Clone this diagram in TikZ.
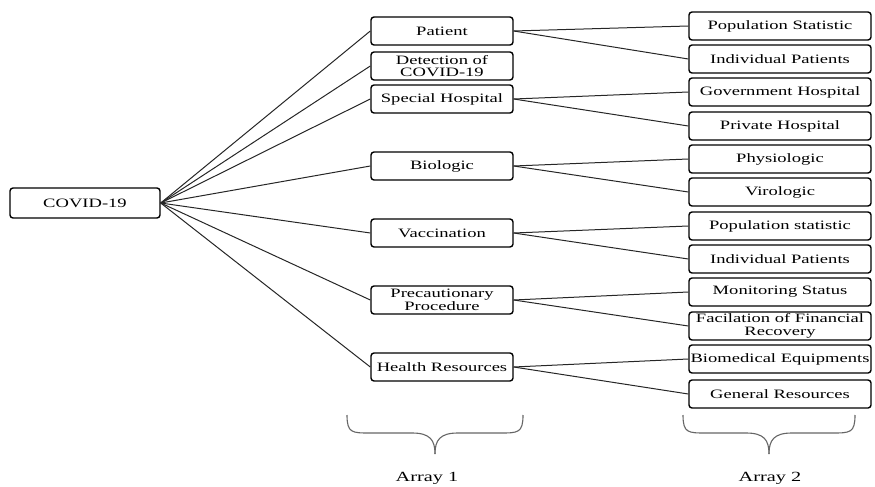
\documentclass[tikz,border=0pt]{standalone}
\usepackage{fontspec}
\setmainfont{Liberation Serif}[FakeStretch=1.45]
\begin{document}
\begin{tikzpicture}[x=1pt,y=-1pt,
  box/.style={draw=black,line width=1.4pt,rounded corners=3pt,inner sep=1pt,
    align=center,font=\fontsize{12.8}{12.8}\selectfont,text=black},
  mid/.style={box,minimum width=142pt,minimum height=28pt},
  rgt/.style={box,minimum width=182pt,minimum height=28pt},
  conn/.style={draw=black!85,line width=1pt},
  brace/.style={draw=black!60,line width=1.1pt},
  lab/.style={font=\fontsize{14}{14}\selectfont,text=black}]
\useasboundingbox (0,0) rectangle (875,487);
\node[box,minimum width=150pt,minimum height=30pt] (c) at (85,203) {COVID-19};
% middle column
\node[mid] (m1) at (442,31) {Patient};
\node[mid] (m2) at (442,66) {Detection of\\COVID-19};
\node[mid] (m3) at (442,99) {Special Hospital};
\node[mid] (m4) at (442,166) {Biologic};
\node[mid] (m5) at (442,233) {Vaccination};
\node[mid] (m6) at (442,300) {Precautionary\\Procedure};
\node[mid] (m7) at (442,367) {Health Resources};
% right column
\node[rgt] (r1) at (780,26) {Population Statistic};
\node[rgt] (r2) at (780,59) {Individual Patients};
\node[rgt] (r3) at (780,92) {Government Hospital};
\node[rgt] (r4) at (780,126) {Private Hospital};
\node[rgt] (r5) at (780,159) {Physiologic};
\node[rgt] (r6) at (780,192) {Virologic};
\node[rgt] (r7) at (780,226) {Population statistic};
\node[rgt] (r8) at (780,259) {Individual Patients};
\node[rgt] (r9) at (780,292) {Monitoring Status};
\node[rgt] (r10) at (780,326) {Facilation of Financial\\Recovery};
\node[rgt] (r11) at (780,359) {Biomedical Equipments};
\node[rgt] (r12) at (780,394) {General Resources};
% connectors
\foreach \m in {m1,m2,m3,m4,m5,m6,m7}
  \draw[conn] (c.east) -- (\m.west);
\draw[conn] (m1.east) -- (r1.west);
\draw[conn] (m1.east) -- (r2.west);
\draw[conn] (m3.east) -- (r3.west);
\draw[conn] (m3.east) -- (r4.west);
\draw[conn] (m4.east) -- (r5.west);
\draw[conn] (m4.east) -- (r6.west);
\draw[conn] (m5.east) -- (r7.west);
\draw[conn] (m5.east) -- (r8.west);
\draw[conn] (m6.east) -- (r9.west);
\draw[conn] (m6.east) -- (r10.west);
\draw[conn] (m7.east) -- (r11.west);
\draw[conn] (m7.east) -- (r12.west);
% braces
\coordinate (b1) at (435,454);
\draw[brace] (347,415) .. controls (347,433) and (352,433) .. (370,433) -- (412,433)
  .. controls (430,433) and (435,440) .. (b1);
\draw[brace] (523,415) .. controls (523,433) and (518,433) .. (500,433) -- (458,433)
  .. controls (440,433) and (435,440) .. (b1);
\coordinate (b2) at (769,454);
\draw[brace] (683,415) .. controls (683,433) and (688,433) .. (706,433) -- (746,433)
  .. controls (764,433) and (769,440) .. (b2);
\draw[brace] (855,415) .. controls (855,433) and (850,433) .. (832,433) -- (792,433)
  .. controls (774,433) and (769,440) .. (b2);
\node[lab] (a1) at (427,478) {Array 1};
\node[lab] (a2) at (770,478) {Array 2};
\end{tikzpicture}
\end{document}
